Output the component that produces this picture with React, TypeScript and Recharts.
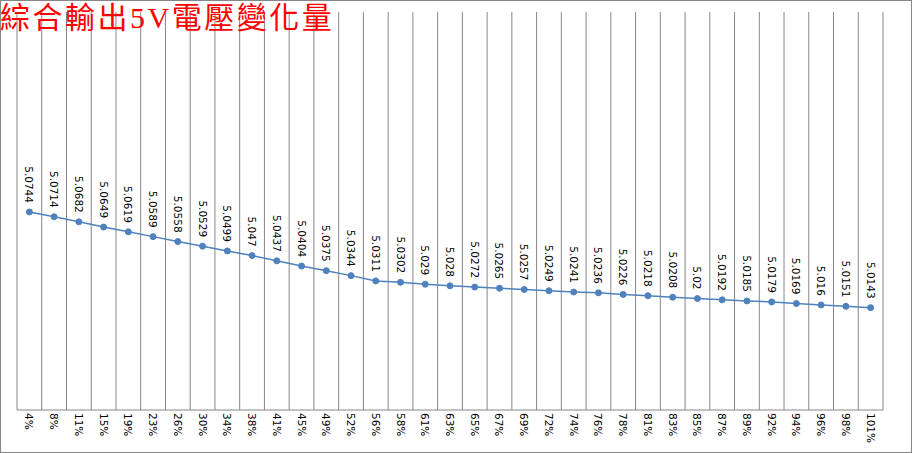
import { LineChart, Line, XAxis, YAxis, CartesianGrid, LabelList } from "recharts";

const loads = [
  "4%", "8%", "11%", "15%", "19%", "23%", "26%", "30%", "34%", "38%",
  "41%", "45%", "49%", "52%", "56%", "58%", "61%", "63%", "65%", "67%",
  "69%", "72%", "74%", "76%", "78%", "81%", "83%", "85%", "87%", "89%",
  "92%", "94%", "96%", "98%", "101%",
];

const volts = [
  5.0744, 5.0714, 5.0682, 5.0649, 5.0619, 5.0589, 5.0558, 5.0529, 5.0499, 5.047,
  5.0437, 5.0404, 5.0375, 5.0344, 5.0311, 5.0302, 5.029, 5.028, 5.0272, 5.0265,
  5.0257, 5.0249, 5.0241, 5.0236, 5.0226, 5.0218, 5.0208, 5.02, 5.0192, 5.0185,
  5.0179, 5.0169, 5.016, 5.0151, 5.0143,
];

const yDomain = [4.95, 5.2];

const data = loads.map((load, i) => ({ load, v: volts[i] }));

const GRID = "#868686";
const BLUE = "#4f81bd";
const FONT = "'DejaVu Sans', Verdana, sans-serif";

// eslint-disable-next-line @typescript-eslint/no-explicit-any
function ValueLabel({ x, y, value }: any) {
  const ay = y - 9;
  return (
    <text x={x} y={ay} transform={`rotate(90, ${x}, ${ay})`} textAnchor="end"
      dominantBaseline="central" fontFamily={FONT} fontSize={10.5} fill="#000">
      {value}
    </text>
  );
}

// eslint-disable-next-line @typescript-eslint/no-explicit-any
function LoadTick({ x, y, payload }: any) {
  return (
    <text x={x} y={y} transform={`rotate(90, ${x}, ${y})`} textAnchor="start"
      dominantBaseline="central" fontFamily={FONT} fontSize={10.5} fill="#000">
      {payload.value}
    </text>
  );
}

// boundaries between categories, from the plot area recharts laid out
// eslint-disable-next-line @typescript-eslint/no-explicit-any
function bandEdges({ offset }: any) {
  const n = loads.length;
  return Array.from({ length: n + 1 }, (_, i) => offset.left + (i * offset.width) / n);
}

export default function App() {
  return (
    <div style={{
      position: "absolute", left: 0, top: 0, width: 912, height: 453,
      boxSizing: "border-box", border: `1px solid ${GRID}`, background: "#fff",
    }}>
      <div style={{
        position: "absolute", left: -1, top: 0, zIndex: 2, color: "#ff0000",
        fontFamily: "'Liberation Serif', 'Noto Sans CJK TC', serif", fontSize: 30,
        letterSpacing: 2.5, lineHeight: "34px", whiteSpace: "nowrap",
      }}>
        綜合輸出5V電壓變化量
      </div>
      <LineChart width={910} height={451} data={data}
        margin={{ top: 11, right: 28, left: 16, bottom: 0 }}>
        <CartesianGrid horizontal={false} stroke={GRID} strokeWidth={1}
          verticalCoordinatesGenerator={bandEdges} />
        <XAxis dataKey="load" scale="band" height={42} interval={0} tickLine={false} tickSize={3}
          tickMargin={0} axisLine={{ stroke: GRID }} tick={<LoadTick />} />
        <YAxis hide domain={yDomain} />
        <Line type="linear" dataKey="v" stroke={BLUE} strokeWidth={1.5}
          dot={{ r: 3, fill: BLUE, stroke: BLUE, strokeWidth: 1 }} isAnimationActive={false}>
          <LabelList dataKey="v" content={<ValueLabel />} />
        </Line>
      </LineChart>
    </div>
  );
}
